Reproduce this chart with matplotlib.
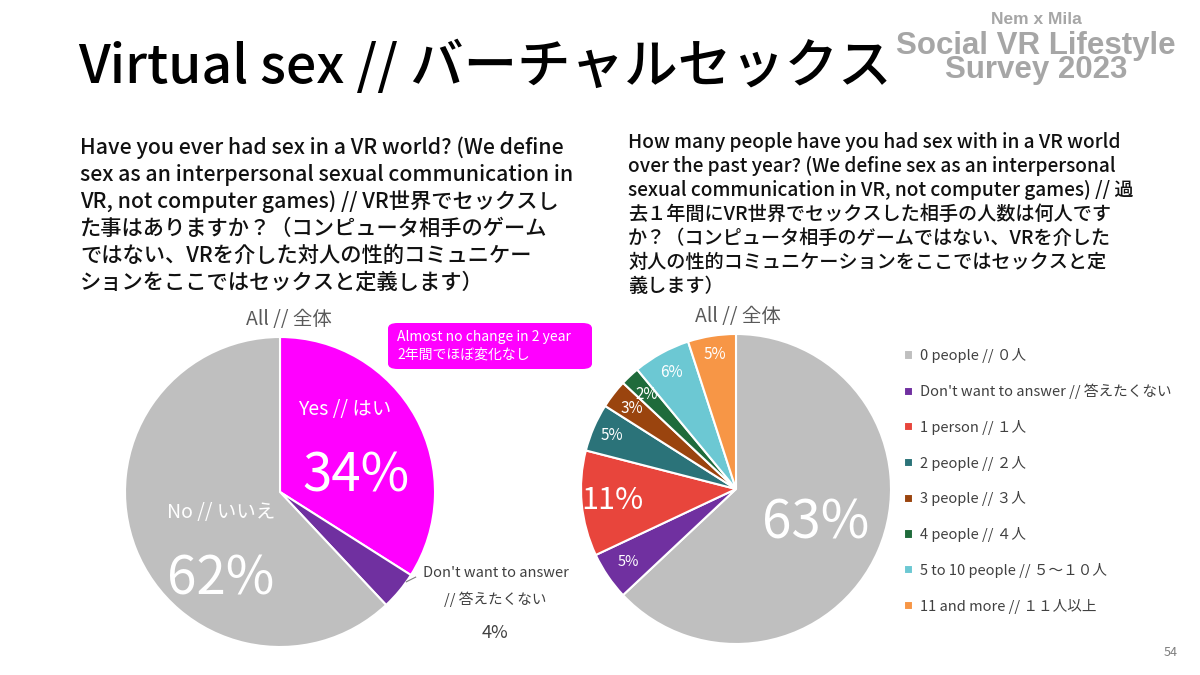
import numpy as np
import matplotlib.pyplot as plt
from matplotlib.patches import FancyBboxPatch

plt.rcParams['font.family'] = ['Noto Sans CJK JP', 'DejaVu Sans']

# left pie: have you ever had sex in VR
q1_labels = ["Yes // はい", "Don't want to answer // 答えたくない", "No // いいえ"]
q1_values = [34, 4, 62]
q1_colors = ["#FF00FF", "#7030A0", "#BFBFBF"]

# right pie: number of partners over the past year
q2_labels = ["0 people // ０人", "Don't want to answer // 答えたくない", "1 person // １人",
             "2 people // ２人", "3 people // ３人", "4 people // ４人",
             "5 to 10 people // ５～１０人", "11 and more // １１人以上"]
q2_values = [63, 5, 11, 5, 3, 2, 6, 5]
q2_colors = ["#BFBFBF", "#7030A0", "#E8453C", "#2B7379", "#9A440E",
             "#1F6B3B", "#6CC8D3", "#F79646"]

q1_text = ["Have you ever had sex in a VR world? (We define",
           "sex as an interpersonal sexual communication in",
           "VR, not computer games) // VR世界でセックスし",
           "た事はありますか？（コンピュータ相手のゲーム",
           "ではない、VRを介した対人の性的コミュニケー",
           "ションをここではセックスと定義します）"]
q2_text = ["How many people have you had sex with in a VR world",
           "over the past year? (We define sex as an interpersonal",
           "sexual communication in VR, not computer games) // 過",
           "去１年間にVR世界でセックスした相手の人数は何人です",
           "か？（コンピュータ相手のゲームではない、VRを介した",
           "対人の性的コミュニケーションをここではセックスと定",
           "義します）"]

W, H = 1200, 675
fig = plt.figure(figsize=(12, 6.75), dpi=100)


def fx(x):
    return x / W


def fy(y):
    return 1 - y / H


def pie_axes(cx, cy, r):
    ax = fig.add_axes([fx(cx - r), fy(cy + r), 2 * r / W, 2 * r / H])
    return ax


# title + watermark
fig.text(fx(78), fy(68), "Virtual sex // バーチャルセックス", fontsize=38.5,
         fontweight='medium', va='center', ha='left', color='black')
fig.text(fx(1036), fy(20), "Nem x Mila", fontsize=12.5, fontweight='bold',
         family='Liberation Sans', color='#A6A6A6', ha='center', va='center')
fig.text(fx(1036), fy(58), "Social VR Lifestyle\nSurvey 2023", fontsize=22.5,
         fontweight='bold', family='Liberation Sans', color='#A6A6A6',
         ha='center', va='center', multialignment='center', linespacing=0.78)

# question texts
for i, line in enumerate(q1_text):
    fig.text(fx(80), fy(148 + i * 27), line, fontsize=15.3, fontweight='medium',
             va='center', color='#111111')
for i, line in enumerate(q2_text):
    fig.text(fx(628), fy(142 + i * 24), line, fontsize=13.8, fontweight='medium',
             va='center', color='#111111')

# ---- left pie
ax1 = pie_axes(280, 492, 155)
w1, _ = ax1.pie(q1_values, colors=q1_colors, startangle=90, counterclock=False,
                radius=1, wedgeprops=dict(edgecolor='white', linewidth=1.5))
ax1.set_xlim(-1, 1)
ax1.set_ylim(-1, 1)
ax1.text(0.06, 1.11, "All // 全体", ha='center', va='center', fontsize=14, color='#595959')
ax1.text(0.42, 0.53, "Yes // はい", ha='center', va='center', fontsize=14, color='white')
ax1.text(0.49, 0.10, f"{q1_values[0]}%", ha='center', va='center', fontsize=38, color='white')
ax1.text(-0.38, -0.13, "No // いいえ", ha='center', va='center', fontsize=14, color='white')
ax1.text(-0.38, -0.56, f"{q1_values[2]}%", ha='center', va='center', fontsize=38, color='white')
# leader for the small slice
a = np.deg2rad(w1[1].theta2 - 3)
ax1.plot([np.cos(a), np.cos(a) + 0.06], [np.sin(a), np.sin(a) + 0.03], color='#7F7F7F', lw=0.8)
ax1.text(1.39, -0.52, "Don't want to answer", ha='center', va='center', fontsize=10.5, color='#404040')
ax1.text(1.39, -0.69, "// 答えたくない", ha='center', va='center', fontsize=10.5, color='#404040')
ax1.text(1.39, -0.91, f"{q1_values[1]}%", ha='center', va='center', fontsize=13, color='#404040')

# callout box
box = FancyBboxPatch((fx(388), fy(369)), fx(592) - fx(388), fy(323) - fy(369),
                     boxstyle='round,pad=0,rounding_size=0.008', transform=fig.transFigure,
                     facecolor='#FF00FF', edgecolor='none')
fig.patches.append(box)
fig.text(fx(397), fy(337), "Almost no change in 2 year", fontsize=10, color='white', va='center')
fig.text(fx(397), fy(355), "2年間でほぼ変化なし", fontsize=10, color='white', va='center')

# ---- right pie
ax2 = pie_axes(736, 489, 155)
w2, _ = ax2.pie(q2_values, colors=q2_colors, startangle=90, counterclock=False,
                radius=1, wedgeprops=dict(edgecolor='white', linewidth=1.5))
ax2.set_xlim(-1, 1)
ax2.set_ylim(-1, 1)
ax2.text(0.01, 1.11, "All // 全体", ha='center', va='center', fontsize=14, color='#595959')
label_r = [0.56, 0.84, 0.80, 0.87, 0.85, 0.84, 0.86, 0.88]
label_fs = [38, 10.5, 22, 11, 11, 11, 11, 11]
for w, v, r, fs in zip(w2, q2_values, label_r, label_fs):
    t = np.deg2rad((w.theta1 + w.theta2) / 2)
    ax2.text(r * np.cos(t), r * np.sin(t), f"{v}%", ha='center', va='center',
             fontsize=fs, color='white')

fig.legend(w2, q2_labels, loc='upper left', bbox_to_anchor=(fx(891), fy(335)),
           frameon=False, fontsize=10.5, handlelength=0.6, handleheight=0.6,
           handletextpad=0.5, labelspacing=1.42, labelcolor='#404040')

fig.text(fx(1178), fy(653), "54", fontsize=9, color='#7F7F7F', ha='right', va='center')

fig.savefig("out.png", dpi=100, facecolor='white')
